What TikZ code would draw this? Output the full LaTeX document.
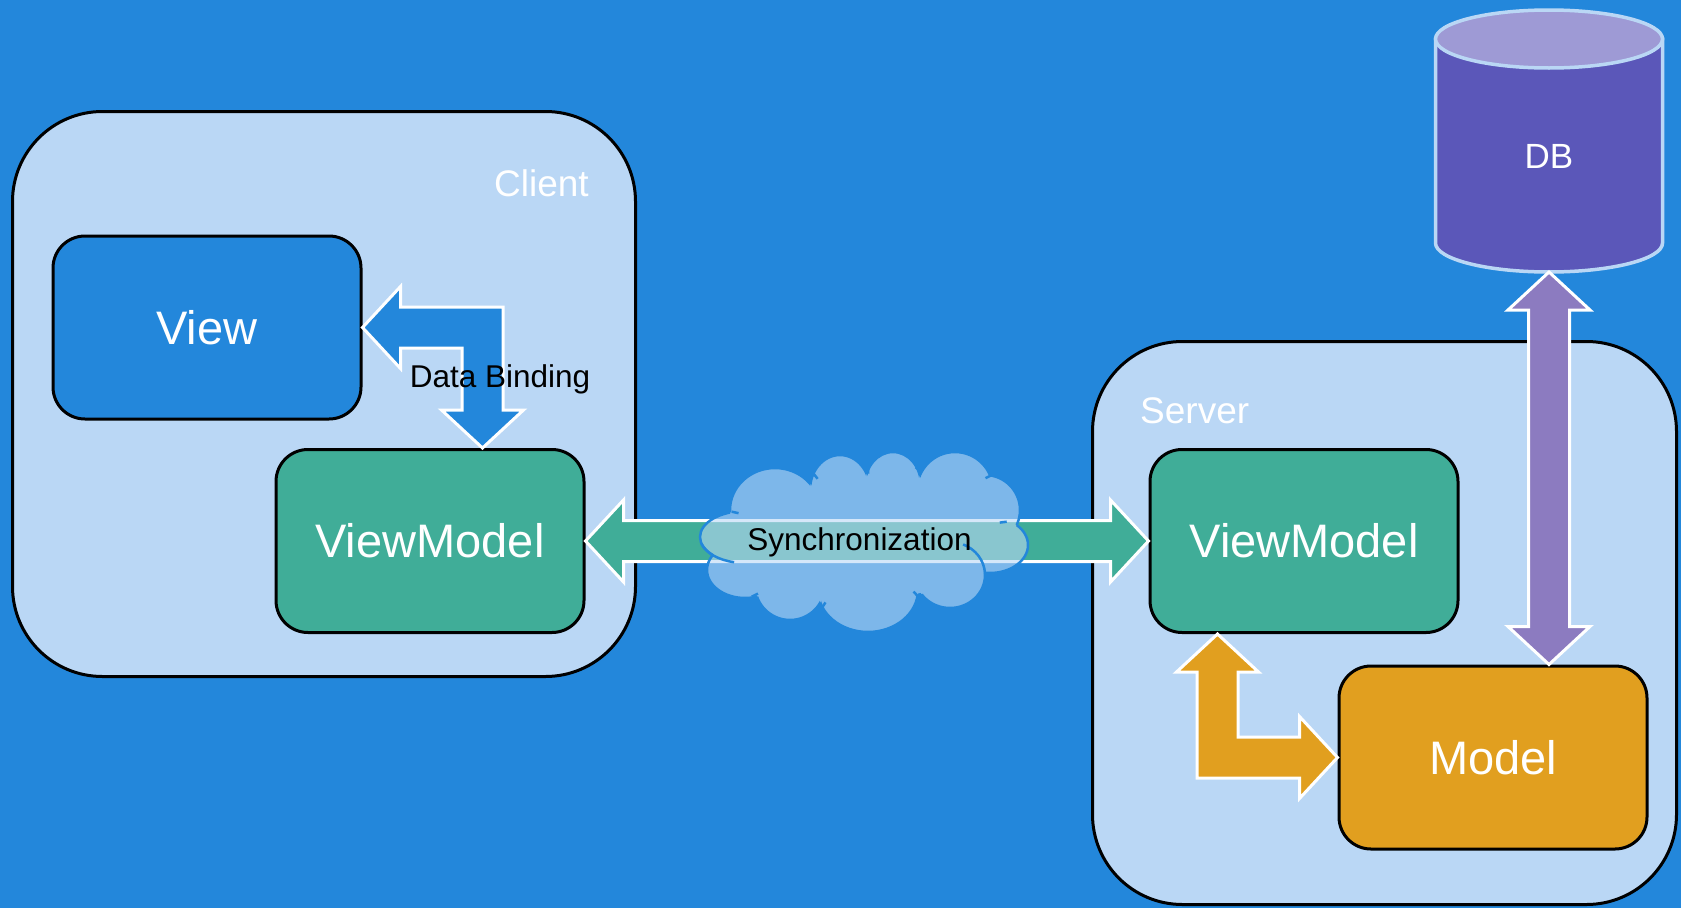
\documentclass[tikz,border=0pt]{standalone}
\usepackage{fontspec}
\setmainfont{Liberation Sans}
\usetikzlibrary{calc}

\definecolor{bgblue}{RGB}{35,135,219}
\definecolor{panel}{RGB}{186,215,245}
\definecolor{vmteal}{RGB}{64,173,152}
\definecolor{modelorange}{RGB}{225,159,31}
\definecolor{dbbody}{RGB}{91,87,185}
\definecolor{dbtop}{RGB}{158,154,213}
\definecolor{dbarrow}{RGB}{140,123,192}

% cloud puffs: centre x / centre y / x radius / y radius
\def\puffs{745/537/45/26, 775/510/45/42, 840/490/30/35, 893/485/28/33,
  955/490/38/38, 985/510/35/35, 990/545/38/28, 950/575/35/33,
  868/590/50/42, 790/585/35/35, 745/570/38/28, 865/540/130/60}
% points where two puffs meet
\def\notches{731.7/511.7, 813.3/473.3, 868.3/466.7, 920/463.3, 991.7/475,
  1006.7/521.7, 918.3/596.7, 821.7/608.3, 751.7/596.7}

\begin{document}
\begin{tikzpicture}[x=1pt,y=-1pt,
  container/.style={draw=black, line width=3pt, fill=panel, rounded corners=90pt,
    inner sep=0pt},
  boxnode/.style={draw=black, line width=3pt, rounded corners=32pt,
    minimum width=308pt, minimum height=183pt, inner sep=0pt, text=white,
    font=\fontsize{47}{56}\selectfont},
  blockarrow/.style={draw=white, line width=3pt, line join=miter, miter limit=10},
  tagtext/.style={text=white, inner sep=0pt, font=\fontsize{37}{44}\selectfont},
  linktext/.style={text=black, inner sep=0pt, font=\fontsize{31.5}{38}\selectfont},
  cloudline/.style={draw=bgblue, line width=2.5pt},
]
\useasboundingbox (0,0) rectangle (1681,908);
\fill[bgblue] (0,0) rectangle (1681,908);

% client and server containers
\node[container, minimum width=623pt, minimum height=565pt] (client) at (324,394) {};
\node[container, minimum width=584pt, minimum height=563pt] (server) at (1384.5,623) {};

% components
\node[boxnode, fill=bgblue] (view) at (207,327.5) {View};
\node[boxnode, fill=vmteal] (vmc) at (430,541) {ViewModel};
\node[boxnode, fill=vmteal] (vms) at (1304,541) {ViewModel};
\node[boxnode, fill=modelorange] (model) at (1493,757.5) {Model};

% database cylinder
\node[minimum width=227pt, minimum height=262pt, inner sep=0pt, outer sep=0pt] (db) at (1549,141) {};
\draw[draw=panel, line width=3.5pt, fill=dbbody]
  ($(db.north west)+(0,29)$) -- ($(db.south west)+(0,-29)$)
  arc[start angle=180, end angle=360, x radius=113.5pt, y radius=29pt]
  -- ($(db.north east)+(0,29)$) -- cycle;
\draw[draw=panel, line width=3.5pt, fill=dbtop]
  ($(db.north)+(0,29)$) ellipse[x radius=113.5pt, y radius=29pt];
\node[text=white, inner sep=0pt, font=\fontsize{35}{42}\selectfont] (dblabel) at (1549,156) {DB};

% container titles
\node[tagtext, anchor=base east] (clientlabel) at (589,196) {Client};
\node[tagtext, anchor=base west] (serverlabel) at (1140,423) {Server};

% data binding: View <-> ViewModel
\coordinate (dbc) at ($(view.east)+(120,0)$);
\draw[blockarrow, fill=bgblue]
  (view.east) -- ++(38,-41) -- ++(0,20.5)
  -- ($(dbc)+(20.5,-20.5)$)
  -- ($(dbc |- vmc.north)+(20.5,-38)$) -- ++(20.5,0)
  -- (dbc |- vmc.north) -- ++(-41,-38) -- ++(20.5,0)
  -- ($(dbc)+(-20.5,20.5)$)
  -- ($(view.east)+(38,20.5)$) -- ++(0,20.5) -- cycle;
\node[linktext, anchor=base] (bindlabel) at (500,387) {Data Binding};

% synchronization: client ViewModel <-> server ViewModel
\draw[blockarrow, fill=vmteal]
  (vmc.east) -- ++(38,-41) -- ++(0,20.5)
  -- ($(vms.west)+(-38,-20.5)$) -- ++(0,-20.5)
  -- (vms.west) -- ++(-38,41) -- ++(0,-20.5)
  -- ($(vmc.east)+(38,20.5)$) -- ++(0,20.5) -- cycle;

% network cloud: one filled union of puffs, then its outer edge only
\coordinate (cloudc) at (865,540);
\fill[panel, fill opacity=.6]
  \foreach \x/\y/\a/\b in \puffs {(\x,\y) ellipse[x radius=\a pt, y radius=\b pt]};
\foreach \x/\y/\a/\b [count=\i] in \puffs {
  \begin{scope}[even odd rule]
    \foreach \u/\v/\c/\d [count=\j] in \puffs {
      \ifnum\i=\j\relax\else
        \clip (650,420) rectangle (1080,660)
          (\u,\v) ellipse[x radius=\c pt, y radius=\d pt];
      \fi
    }
    \draw[cloudline] (\x,\y) ellipse[x radius=\a pt, y radius=\b pt];
  \end{scope}
}
% short inner strokes where the puffs meet
\foreach \x/\y in \notches {
  \draw[cloudline] (\x,\y) -- ($(\x,\y)!7pt!(cloudc)$);
}
\draw[cloudline] (745,537) ++(195:45pt and 26pt)
  arc[start angle=195, end angle=256, x radius=45pt, y radius=26pt];
\draw[cloudline] (950,575) ++(3:35pt and 33pt)
  arc[start angle=3, end angle=68, x radius=35pt, y radius=33pt];
\node[linktext, anchor=base] (synclabel) at (859.5,550) {Synchronization};

% server ViewModel <-> Model
\coordinate (oc) at ($(model.west)+(-120,0)$);
\draw[blockarrow, fill=modelorange]
  (oc |- vms.south) -- ++(41,38) -- ++(-20.5,0)
  -- ($(oc)+(20.5,-20.5)$)
  -- ($(model.west)+(-38,-20.5)$) -- ++(0,-20.5)
  -- (model.west) -- ++(-38,41) -- ++(0,-20.5)
  -- ($(oc)+(-20.5,20.5)$)
  -- ($(oc |- vms.south)+(-20.5,38)$) -- ++(-20.5,0) -- cycle;

% Model <-> DB
\draw[blockarrow, fill=dbarrow]
  (db.south) -- ++(41,38) -- ++(-20.5,0)
  -- ($(db.south |- model.north)+(20.5,-38)$) -- ++(20.5,0)
  -- (db.south |- model.north) -- ++(-41,-38) -- ++(20.5,0)
  -- ($(db.south)+(-20.5,38)$) -- ++(-20.5,0) -- cycle;
\end{tikzpicture}
\end{document}
